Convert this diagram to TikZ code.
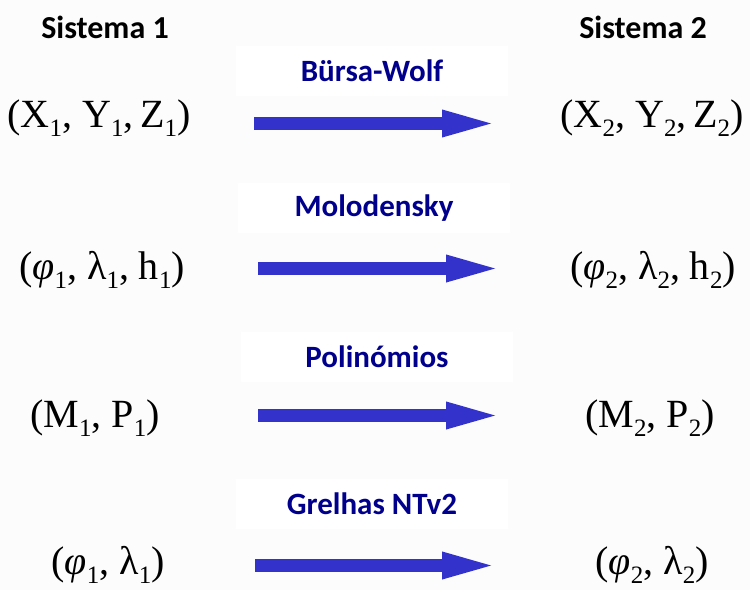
\documentclass[tikz,border=0pt]{standalone}
\usepackage{fontspec}
\setmainfont{Liberation Serif}
\newfontfamily\lblfont{Carlito}
\usetikzlibrary{arrows.meta}
\definecolor{navylbl}{RGB}{0,0,140}
\definecolor{arrowblue}{RGB}{51,51,204}
\definecolor{bgpage}{RGB}{252,252,252}
\newcommand\sbx[1]{\raisebox{-0.22em}{\fontsize{25}{25}\selectfont #1}}
\newcommand\vphi{{\itshape φ}}
\tikzset{
  head/.style={font=\lblfont\bfseries\fontsize{32}{32}\selectfont, text=black},
  coord/.style={font=\fontsize{40}{40}\selectfont, inner sep=0pt},
  lbl/.style={font=\lblfont\bfseries\fontsize{31}{31}\selectfont, text=navylbl, fill=white,
    minimum width=272pt, minimum height=50pt, inner sep=0pt},
  bigarrow/.style={arrowblue, line width=13pt, -{Triangle[length=60pt,width=23pt]}}
}
\begin{document}
\begin{tikzpicture}[x=1pt,y=-1pt]
\fill[bgpage] (0,0) rectangle (750,590);
\useasboundingbox (0,0) rectangle (750,590);
\node[head] (s1) at (105,27) {Sistema 1};
\node[head] (s2) at (643,27) {Sistema 2};
% row 1
\node[lbl] (l1) at (372,71) {Bürsa-Wolf};
\node[coord] (a1) at (99,118) {(X\sbx{1}, Y\sbx{1},\,Z\sbx{1})};
\node[coord] (b1) at (652,118) {(X\sbx{2}, Y\sbx{2},\,Z\sbx{2})};
\coordinate (p1) at (254,123.5);
\coordinate (q1) at (502,123.5);
\draw[bigarrow] (p1) -- (q1);
% row 2
\node[lbl] (l2) at (374,208) {Molodensky};
\node[coord] (a2) at (102,270) {(\vphi\sbx{1}, λ\sbx{1}, h\sbx{1})};
\node[coord] (b2) at (653,270) {(\vphi\sbx{2}, λ\sbx{2}, h\sbx{2})};
\coordinate (p2) at (258,268.5);
\coordinate (q2) at (506,268.5);
\draw[bigarrow] (p2) -- (q2);
% row 3
\node[lbl] (l3) at (377,357) {Polinómios};
\node[coord] (a3) at (95,418) {(M\sbx{1}, P\sbx{1})};
\node[coord] (b3) at (650,418) {(M\sbx{2}, P\sbx{2})};
\coordinate (p3) at (258,415.5);
\coordinate (q3) at (506,415.5);
\draw[bigarrow] (p3) -- (q3);
% row 4
\node[lbl] (l4) at (372,504) {Grelhas NTv2};
\node[coord] (a4) at (108,565) {(\vphi\sbx{1}, λ\sbx{1})};
\node[coord] (b4) at (652,565) {(\vphi\sbx{2}, λ\sbx{2})};
\coordinate (p4) at (255,565.5);
\coordinate (q4) at (502,565.5);
\draw[bigarrow] (p4) -- (q4);
\end{tikzpicture}
\end{document}
